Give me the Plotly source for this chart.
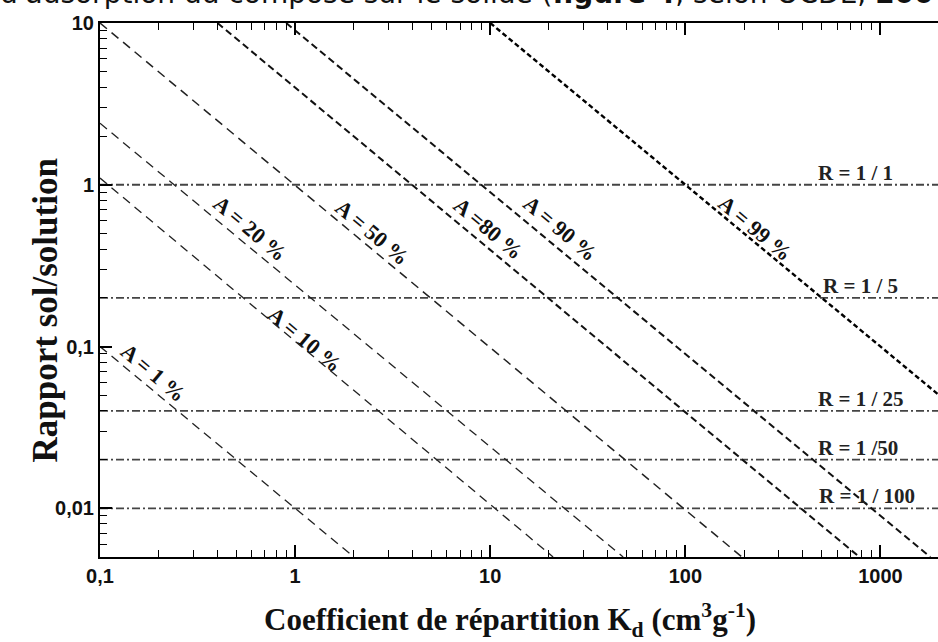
import math
import plotly.graph_objects as go

# ---- data ----
a_labels = ["A = 1 %", "A = 10 %", "A = 20 %", "A = 50 %", "A =80 %", "A = 90 %", "A = 99 %"]
a_kd_start = [0.1, 0.1, 0.1, 0.1, 0.4, 0.9, 10]
a_r_start = [0.1, 1.1, 2.4, 10, 10, 10, 10]
a_kd_end = [2.0, 21, 48, 195, 780, 1800, 2000]
a_r_end = [0.005, 0.005, 0.005, 0.005, 0.005, 0.005, 0.05]

r_labels = ["R = 1 / 1", "R = 1 / 5", "R = 1 / 25", "R = 1 /50", "R = 1 / 100"]
r_values = [1, 0.2, 0.04, 0.02, 0.01]
r_kd_span = [0.1, 2000]

x_tickvals = [0.1, 1, 10, 100, 1000]
x_ticktext = ["0,1", "1", "10", "100", "1000"]
y_tickvals = [0.01, 0.1, 1, 10]
y_ticktext = ["0,01", "0,1", "1", "10"]

# ---- styles / positions ----
a_styles = [
    dict(width=1.3, dash="9px,6px", color="#222"),
    dict(width=1.3, dash="9px,6px", color="#222"),
    dict(width=1.3, dash="9px,6px", color="#222"),
    dict(width=1.5, dash="9px,6px", color="#222"),
    dict(width=2.0, dash="7px,4px", color="#111"),
    dict(width=2.0, dash="7px,4px", color="#111"),
    dict(width=2.4, dash="5px,3px", color="#000"),
]
a_label_pos = [(-0.728, -1.161), (0.051, -0.957), (-0.231, -0.273), (0.395, -0.298),
               (0.990, -0.273), (1.359, -0.273), (2.359, -0.273)]
r_label_x = [2.872, 2.897, 2.897, 2.887, 2.933]

fig = go.Figure()

for val in r_values:
    fig.add_trace(go.Scatter(x=r_kd_span, y=[val, val], mode="lines",
                             line=dict(color="#444", width=1.8, dash="8px,3px,2px,3px"),
                             hoverinfo="skip", showlegend=False))

for i in range(len(a_labels)):
    fig.add_trace(go.Scatter(x=[a_kd_start[i], a_kd_end[i]], y=[a_r_start[i], a_r_end[i]],
                             mode="lines", line=a_styles[i], hoverinfo="skip", showlegend=False))

annotations = []
for lab, (lx, ly) in zip(a_labels, a_label_pos):
    annotations.append(dict(x=lx, y=ly, xref="x", yref="y", text="<b>" + lab + "</b>",
                            showarrow=False, textangle=40,
                            font=dict(family="Liberation Serif", size=22, color="#111")))
for lab, lx, val in zip(r_labels, r_label_x, r_values):
    annotations.append(dict(x=lx, y=math.log10(val), xref="x", yref="y", text="<b>" + lab + "</b>",
                            showarrow=False, yanchor="bottom", yshift=-2,
                            font=dict(family="Liberation Serif", size=21, color="#222")))

# axis titles
annotations.append(dict(x=-0.0907, y=0.4625, xref="paper", yref="paper",
                        text="<b>Rapport sol/solution</b>", textangle=-90, showarrow=False,
                        font=dict(family="Liberation Serif", size=35, color="#111")))
annotations.append(dict(x=0.489, y=-0.118, xref="paper", yref="paper", yanchor="middle",
                        text="<b>Coefficient de répartition K<sub>d</sub> (cm<sup>3</sup>g<sup>-1</sup>)</b>",
                        showarrow=False,
                        font=dict(family="Liberation Serif", size=31, color="#111")))
# clipped caption line above the chart
annotations.append(dict(x=-0.122, y=1.021, xref="paper", yref="paper", xanchor="left", yanchor="bottom",
                        text="d'adsorption du composé sur le solide (<b>figure 4</b>, selon OCDE, <b>200</b>",
                        showarrow=False,
                        font=dict(family="DejaVu Sans", size=28, color="#111")))

minor_x = [m * 10 ** e for e in range(-1, 4) for m in range(2, 10)]
minor_y = [m * 10 ** e for e in range(-3, 1) for m in range(2, 10)]

fig.update_layout(
    width=938, height=642,
    margin=dict(l=100, r=0, t=23, b=85, autoexpand=False),
    paper_bgcolor="white", plot_bgcolor="white",
    annotations=annotations,
    xaxis=dict(type="log", range=[-1, 3.295], showgrid=False, zeroline=False, automargin=False,
               showline=True, linecolor="black", linewidth=2, mirror="ticks",
               ticks="inside", ticklen=12, tickwidth=1.5, tickcolor="black",
               tickmode="array", tickvals=x_tickvals, ticktext=x_ticktext,
               tickfont=dict(family="Liberation Sans", size=20, color="#111", weight="bold"),
               minor=dict(tickmode="array", tickvals=minor_x, ticks="inside", ticklen=7,
                          tickwidth=1.3, tickcolor="black", showgrid=False)),
    yaxis=dict(type="log", range=[math.log10(0.005), 1], showgrid=False, zeroline=False, automargin=False,
               showline=True, linecolor="black", linewidth=2, mirror=False,
               ticks="inside", ticklen=12, tickwidth=1.5, tickcolor="black",
               tickmode="array", tickvals=y_tickvals, ticktext=y_ticktext,
               tickfont=dict(family="Liberation Sans", size=20, color="#111", weight="bold"),
               minor=dict(tickmode="array", tickvals=minor_y, ticks="inside", ticklen=7,
                          tickwidth=1.3, tickcolor="black", showgrid=False)),
)

fig.write_html("out.html", config={"displayModeBar": False},
               post_script="document.body.style.margin='0';document.body.style.overflow='hidden';")
